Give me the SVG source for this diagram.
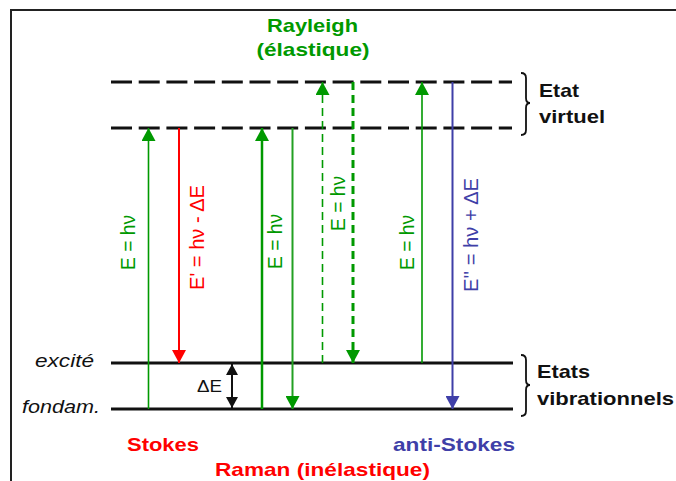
<svg xmlns="http://www.w3.org/2000/svg" width="676" height="481" viewBox="0 0 676 481">
<style>
text{font-family:"Liberation Sans",Arial,sans-serif}
.b{font-weight:bold;font-size:19px}
.lbl{font-size:19.5px}
.it{font-style:italic;font-size:18px;fill:#111}
.g{fill:#009900}.r{fill:#ff0000}.bl{fill:#3f3fa8}.k{fill:#111}
.lvl{stroke:#111;stroke-width:3;fill:none}
.virt{stroke:#111;stroke-width:3;fill:none;stroke-dasharray:21 6.7}
.brace{stroke:#111;stroke-width:1.8;fill:none}
</style>
<defs>
<marker id="ag" markerUnits="userSpaceOnUse" markerWidth="14" markerHeight="14" refX="13" refY="7" orient="auto"><path d="M0,0 L13,7 L0,14 z" fill="#009900"/></marker>
<marker id="ar" markerUnits="userSpaceOnUse" markerWidth="14" markerHeight="14" refX="13" refY="7" orient="auto"><path d="M0,0 L13,7 L0,14 z" fill="#ff0000"/></marker>
<marker id="ab" markerUnits="userSpaceOnUse" markerWidth="14" markerHeight="14" refX="13" refY="7" orient="auto"><path d="M0,0 L13,7 L0,14 z" fill="#3f3fa8"/></marker>
<marker id="ak" markerUnits="userSpaceOnUse" markerWidth="12" markerHeight="12" refX="11" refY="6" orient="auto"><path d="M0,0 L11,6 L0,12 z" fill="#111"/></marker>
</defs>
<rect width="676" height="481" fill="#fff"/>
<path d="M10,10 H676 M11,9 V481" stroke="#222" stroke-width="2" fill="none"/>

<g id="virtual-levels">
<line class="virt" x1="111" y1="82" x2="512" y2="82"/>
<line class="virt" x1="111" y1="128" x2="512" y2="128"/>
</g>
<g id="vib-levels">
<line class="lvl" x1="111" y1="363" x2="513" y2="363"/>
<line class="lvl" x1="111" y1="409" x2="513" y2="409"/>
</g>

<g id="connectors">
<line x1="148.5" y1="409" x2="148.5" y2="128" stroke="#009900" stroke-width="1.6" marker-end="url(#ag)"/>
<line x1="179" y1="128" x2="179" y2="363" stroke="#ff0000" stroke-width="2" marker-end="url(#ar)"/>
<line x1="262" y1="409" x2="262" y2="128" stroke="#009900" stroke-width="2.5" marker-end="url(#ag)"/>
<line x1="292.5" y1="128" x2="292.5" y2="409" stroke="#22a022" stroke-width="2" marker-end="url(#ag)"/>
<line x1="322.5" y1="363" x2="322.5" y2="82" stroke="#009900" stroke-width="1.6" stroke-dasharray="8 5" marker-end="url(#ag)"/>
<line x1="353" y1="82" x2="353" y2="363" stroke="#009900" stroke-width="3" stroke-dasharray="8 5" marker-end="url(#ag)"/>
<line x1="422" y1="363" x2="422" y2="82" stroke="#009900" stroke-width="1.6" marker-end="url(#ag)"/>
<line x1="452.5" y1="82" x2="452.5" y2="409" stroke="#3f3fa8" stroke-width="2" marker-end="url(#ab)"/>
<line x1="232" y1="386" x2="232" y2="364" stroke="#111" stroke-width="2" marker-end="url(#ak)"/>
<line x1="232" y1="386" x2="232" y2="408" stroke="#111" stroke-width="2" marker-end="url(#ak)"/>
</g>

<g id="braces">
<path class="brace" d="M521,73 Q526,73 526,78 L526,98 Q526,103 530,103 Q526,103 526,108 L526,130 Q526,135 521,135"/>
<path class="brace" d="M521,355 Q526,355 526,360 L526,380 Q526,385 530,385 Q526,385 526,390 L526,411 Q526,416 521,416"/>
</g>

<g id="arrow-labels">
<text class="lbl g" text-anchor="middle" textLength="55" lengthAdjust="spacingAndGlyphs" transform="translate(135,242.5) rotate(-90)">E = hν</text>
<text class="lbl r" text-anchor="middle" textLength="105" lengthAdjust="spacingAndGlyphs" transform="translate(204,237.5) rotate(-90)">E' = hν - ΔE</text>
<text class="lbl g" text-anchor="middle" textLength="55" lengthAdjust="spacingAndGlyphs" transform="translate(282,241.5) rotate(-90)">E = hν</text>
<text class="lbl g" text-anchor="middle" textLength="55" lengthAdjust="spacingAndGlyphs" transform="translate(345,203.5) rotate(-90)">E = hν</text>
<text class="lbl g" text-anchor="middle" textLength="55" lengthAdjust="spacingAndGlyphs" transform="translate(414,242.5) rotate(-90)">E = hν</text>
<text class="lbl bl" text-anchor="middle" textLength="114" lengthAdjust="spacingAndGlyphs" transform="translate(478,235) rotate(-90)">E'' = hν + ΔE</text>
<text class="k" x="197" y="392" font-size="16" textLength="25" lengthAdjust="spacingAndGlyphs">ΔE</text>
</g>

<g id="titles">
<text class="b g" x="312.5" y="32" text-anchor="middle" textLength="91" lengthAdjust="spacingAndGlyphs">Rayleigh</text>
<text class="b g" x="313" y="56" text-anchor="middle" textLength="113" lengthAdjust="spacingAndGlyphs">(élastique)</text>
<text class="b k" x="539" y="97" textLength="40" lengthAdjust="spacingAndGlyphs">Etat</text>
<text class="b k" x="539" y="123" textLength="66" lengthAdjust="spacingAndGlyphs">virtuel</text>
<text class="b k" x="537" y="378" textLength="53" lengthAdjust="spacingAndGlyphs">Etats</text>
<text class="b k" x="537" y="405" textLength="137" lengthAdjust="spacingAndGlyphs">vibrationnels</text>
<text class="it" x="94" y="367" text-anchor="end" textLength="59" lengthAdjust="spacingAndGlyphs">excité</text>
<text class="it" x="100" y="413" text-anchor="end" textLength="78" lengthAdjust="spacingAndGlyphs">fondam.</text>
<text class="b r" x="127" y="451" textLength="72" lengthAdjust="spacingAndGlyphs">Stokes</text>
<text class="b bl" x="393" y="451" textLength="122" lengthAdjust="spacingAndGlyphs">anti-Stokes</text>
<text class="b r" x="215" y="476" textLength="215" lengthAdjust="spacingAndGlyphs">Raman (inélastique)</text>
</g>
</svg>
